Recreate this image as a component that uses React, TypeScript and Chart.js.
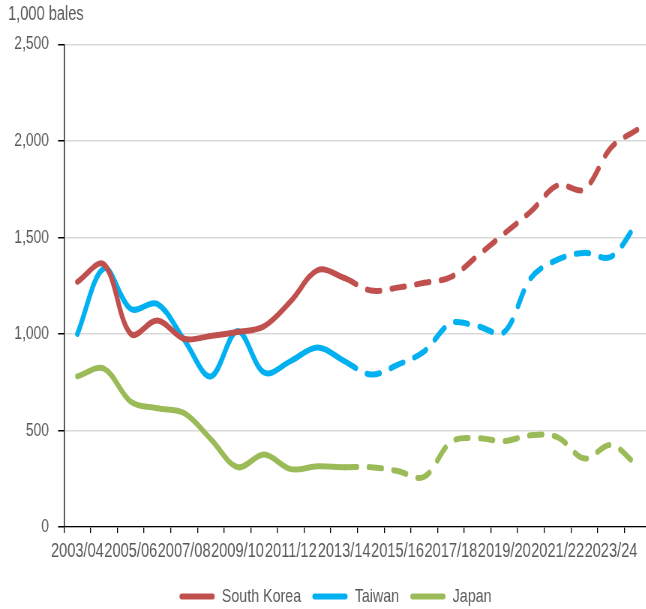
import React, { useEffect, useRef } from 'react';
import { Chart, registerables } from 'chart.js';

Chart.register(...registerables);

const categories = [
  '2003/04', '2004/05', '2005/06', '2006/07', '2007/08', '2008/09', '2009/10', '2010/11',
  '2011/12', '2012/13', '2013/14', '2014/15', '2015/16', '2016/17', '2017/18', '2018/19',
  '2019/20', '2020/21', '2021/22', '2022/23', '2023/24', '2024/25',
];
const southKorea = [1270, 1360, 1000, 1070, 975, 990, 1010, 1040, 1170, 1330, 1290, 1225, 1240, 1265, 1295, 1405, 1520, 1635, 1770, 1750, 1965, 2060];
const taiwan = [1000, 1340, 1130, 1155, 970, 780, 1015, 800, 860, 930, 860, 790, 840, 910, 1055, 1040, 1010, 1290, 1385, 1420, 1400, 1580];
const japan = [780, 820, 650, 615, 590, 455, 310, 375, 300, 315, 310, 310, 290, 260, 440, 460, 445, 475, 465, 355, 425, 315];
const seriesNames = ['South Korea', 'Taiwan', 'Japan'];
const seriesColors = ['#C0504D', '#00B0F0', '#9BBB59'];
const yMin = 0;
const yMax = 2500;
const yStep = 500;
const unitLabel = '1,000 bales';
const lastActualIndex = 10; // 2013/14: solid up to here, dashed projections afterwards

// The reference is rendered horizontally condensed; draw wider and squeeze.
const SX = 0.75;
const FONT = "'Liberation Sans', Arial, sans-serif";
const TEXT = '#595959';

const shiftLegend = {
  id: 'shiftLegend',
  afterLayout(chart: any) {
    if (chart.legend) {
      chart.legend.left += 8;
      chart.legend.right += 8;
    }
  },
};

export default function App() {
  const ref = useRef<HTMLCanvasElement | null>(null);

  useEffect(() => {
    if (!ref.current) return;
    const series = [southKorea, taiwan, japan];
    const chart = new Chart(ref.current, {
      type: 'line',
      data: {
        labels: categories,
        datasets: series.map((d, i) => ({
          label: seriesNames[i],
          data: d,
          borderColor: seriesColors[i],
          backgroundColor: seriesColors[i],
          borderWidth: 6,
          pointRadius: 0,
          pointHoverRadius: 0,
          tension: 0.35,
          fill: false,
          borderCapStyle: 'round',
          borderJoinStyle: 'round',
          segment: {
            borderDash: (ctx: any) => (ctx.p0DataIndex >= lastActualIndex ? [17, 16] : undefined),
          },
        })),
      },
      plugins: [shiftLegend],
      options: {
        responsive: false,
        animation: false,
        events: [],
        layout: { padding: { left: 10.7, right: 12, top: 0, bottom: 0 } },
        plugins: {
          title: {
            display: true,
            text: unitLabel,
            align: 'start',
            color: TEXT,
            font: { family: FONT, size: 19.5, weight: 'normal' },
            padding: { top: 3, bottom: 18 },
          },
          legend: {
            display: true,
            position: 'bottom',
            labels: {
              color: TEXT,
              font: { family: FONT, size: 19 },
              boxWidth: 47,
              boxHeight: 6,
              padding: 15,
              generateLabels: (c: any) =>
                c.data.datasets.map((ds: any, i: number) => ({
                  text: ds.label,
                  fillStyle: seriesColors[i],
                  strokeStyle: seriesColors[i],
                  lineWidth: 0,
                  borderRadius: 3,
                  hidden: false,
                  datasetIndex: i,
                  fontColor: TEXT,
                })),
            },
          },
          tooltip: { enabled: false },
        },
        scales: {
          x: {
            type: 'category',
            offset: true,
            afterFit: (s: any) => { s.height = 45; },
            grid: {
              display: true,
              offset: true,
              drawOnChartArea: false,
              drawTicks: true,
              tickLength: 6,
              color: '#000',
              tickColor: '#000',
              lineWidth: 1.3,
            },
            border: { display: true, color: '#000', width: 1.3 },
            ticks: {
              autoSkip: false,
              maxRotation: 0,
              minRotation: 0,
              padding: 7,
              color: TEXT,
              font: { family: FONT, size: 19.5 },
              callback: (_v: any, i: number) => (i % 2 === 0 ? categories[i] : ''),
            },
          },
          y: {
            min: yMin,
            max: yMax,
            afterFit: (s: any) => { s.width = 74.7; },
            grid: {
              color: '#D9D9D9',
              tickColor: '#000',
              tickLength: 8,
              lineWidth: 1.5,
            },
            border: { display: true, color: '#000', width: 1.3 },
            ticks: {
              stepSize: yStep,
              padding: 12,
              color: TEXT,
              font: { family: FONT, size: 18.5 },
              callback: (v: any) => Number(v).toLocaleString('en-US'),
            },
          },
        },
      },
    } as any);
    return () => chart.destroy();
  }, []);

  return (
    <div style={{ position: 'absolute', left: 0, top: 0, width: 646, height: 609, overflow: 'hidden', background: '#fff' }}>
      <canvas
        ref={ref}
        width={Math.round(660 / SX)}
        height={616}
        style={{ display: 'block', transform: `scaleX(${SX})`, transformOrigin: '0 0' }}
      />
    </div>
  );
}
